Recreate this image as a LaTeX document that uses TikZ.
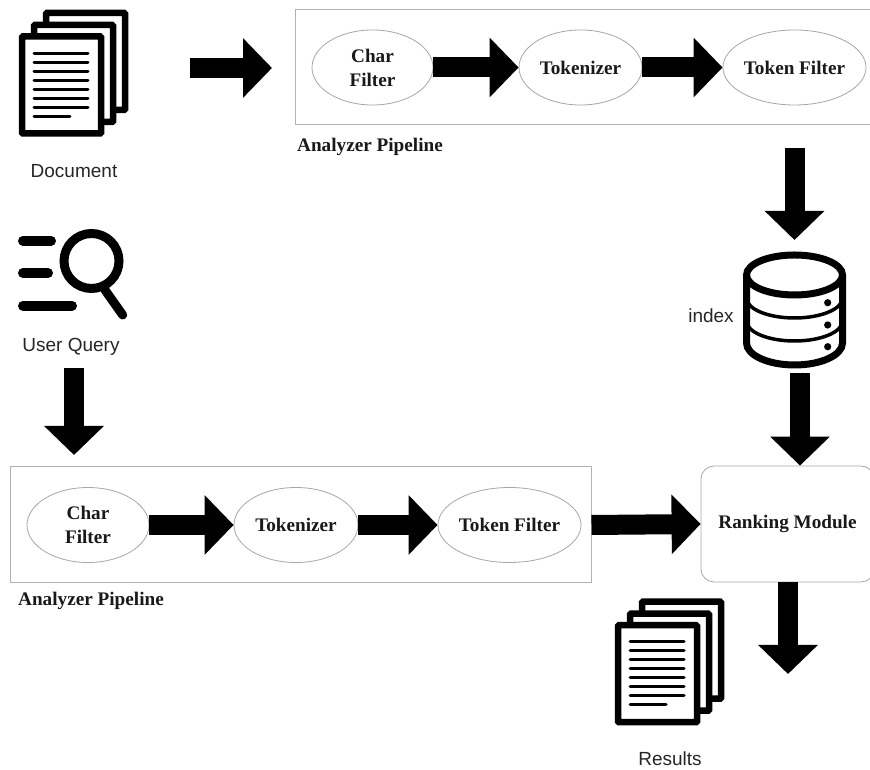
\documentclass[tikz,border=0pt]{standalone}
\usepackage{xcolor}
\usepackage{fontspec}
\setmainfont{Liberation Serif}
\setsansfont{Liberation Sans}
\usetikzlibrary{shapes,arrows.meta}

\tikzset{
  stage/.style={ellipse,draw=gray!70,line width=0.8pt,fill=white,inner sep=0pt,minimum height=75pt,
    align=center,font=\fontsize{19.2}{24}\selectfont\bfseries,text=black!90},
  pipe/.style={draw=gray!60,line width=1pt},
  bigarrow/.style={line width=20pt,-{Triangle[length=29pt,width=58pt]}},
  caption/.style={font=\fontsize{19}{22}\selectfont\sffamily,text=black!85,inner sep=0pt},
  pipename/.style={font=\fontsize{19.2}{22}\selectfont\bfseries,text=black!90,inner sep=0pt,anchor=west},
  docstack/.pic={
    \foreach \dx/\dy in {28/27,16/15,4/3.5}
      \draw[line width=6.5pt,rounded corners=1pt,fill=white] (\dx,\dy) rectangle ++(79,97);
    \foreach \ly in {83.7,74.7,65.7,56.7,47.7,38.9,29.9}
      \draw[line width=3pt,line cap=round] (16,\ly) -- (70,\ly);
    \draw[line width=3pt,line cap=round] (16,20.9) -- (52,20.9);
  }
}

\begin{document}
\begin{tikzpicture}[x=1pt,y=1pt]
  \useasboundingbox (0,0) rectangle (870,770);

  % document and query icons
  \pic at (18,633) {docstack};
  \node[caption] (docname) at (74,599) {Document};
  \foreach \by/\bx in {529.3/51,497/48,464.3/72}
    \draw[line width=10pt,line cap=round] (23,\by) -- (\bx,\by);
  \draw[line width=9pt] (91.5,509) circle[radius=27.5];
  \draw[line width=9pt,line cap=round] (105,480) -- (122.7,455);
  \node[caption] (queryname) at (71,423) {User Query};

  % upper pipeline
  \draw[pipe] (870,760) -- (295,760) -- (295,645) -- (870,645);
  \node[stage,minimum width=121pt] (charup) at (372.5,702.5) {Char\\Filter};
  \node[stage,minimum width=123pt] (tokup) at (580.5,702.5) {Tokenizer};
  \node[stage,minimum width=141pt] (filtup) at (794.5,702.5) {Token Filter};
  \node[pipename] (pipeup) at (297,623) {Analyzer Pipeline};
  \draw[bigarrow] (charup.east) -- (tokup.west);
  \draw[bigarrow] (tokup.east) -- (filtup.west);

  % lower pipeline
  \node[pipe,minimum width=581pt,minimum height=116pt,inner sep=0pt] (boxlow) at (300.5,245) {};
  \node[stage,minimum width=122pt] (charlow) at (88,245) {Char\\Filter};
  \node[stage,minimum width=124pt] (toklow) at (296,245) {Tokenizer};
  \node[stage,minimum width=139pt] (filtlow) at (509.5,245) {Token Filter};
  \node[pipename] (pipelow) at (18,169) {Analyzer Pipeline};
  \draw[bigarrow] (charlow.east) -- (toklow.west);
  \draw[bigarrow] (toklow.east) -- (filtlow.west);

  % index
  \draw[line width=7pt] (746.5,495) -- (746.5,427)
    arc[start angle=180,end angle=360,x radius=48,y radius=22] -- (842.5,495);
  \draw[line width=7pt] (794.5,495) ellipse[x radius=48,y radius=20];
  \foreach \cy in {472,449}
    \draw[line width=3.5pt] (746.5,\cy) arc[start angle=180,end angle=360,x radius=48,y radius=20];
  \foreach \cy in {467.3,445,423.3}
    \fill (827.7,\cy) circle[radius=3.6];
  \node[caption] (indexname) at (711,454) {index};

  % ranking and results
  \node[draw=gray!70,line width=0.8pt,rounded corners=13pt,minimum width=173pt,minimum height=116pt,
    inner sep=0pt,font=\fontsize{19.2}{22}\selectfont\bfseries,text=black!90] (rank) at (787.5,246) {Ranking Module};
  \pic at (614,44.3) {docstack};
  \node[caption] (resname) at (670,11) {Results};

  % connectors with a free end
  \coordinate (docout) at (190,702);
  \coordinate (docend) at (272,702);
  \coordinate (filtout) at (794.5,622);
  \coordinate (indexin) at (794.5,530);
  \coordinate (indexout) at (800,397);
  \coordinate (queryout) at (74,402);
  \coordinate (queryend) at (74,315);
  \coordinate (resend) at (788,96);
  \draw[bigarrow] (docout) -- (docend);
  \draw[bigarrow] (filtout) -- (indexin);
  \draw[bigarrow] (indexout) -- (indexout |- rank.north);
  \draw[bigarrow] (queryout) -- (queryend);
  \draw[bigarrow] (boxlow.east) -- (rank.west);
  \draw[bigarrow] (resend |- rank.south) -- (resend);
\end{tikzpicture}
\end{document}
